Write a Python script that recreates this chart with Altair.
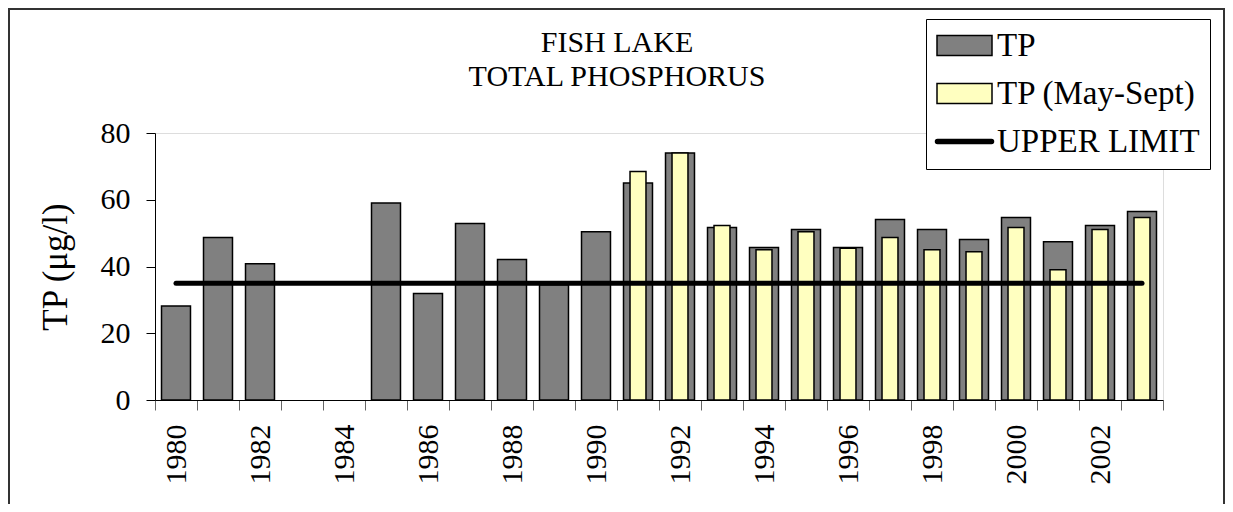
import altair as alt
import pandas as pd

years = [str(y) for y in range(1980, 2004)]
tp = [28.2, 48.7, 40.8, None, None, 59.0, 31.9, 52.9, 42.1, 34.5, 50.4, 65.0,
      74.0, 51.7, 45.7, 51.1, 45.7, 54.1, 51.1, 48.1, 54.7, 47.4, 52.3, 56.5]
may_years = [str(y) for y in range(1991, 2004)]
tp_may = [68.5, 74.0, 52.3, 45.0, 50.4, 45.5, 48.7, 45.0, 44.4, 51.7, 39.0, 51.1, 54.7]
limit_years = ["1980", "2003"]
limit_vals = [35, 35]

series = ["TP", "TP (May-Sept)", "UPPER LIMIT"]
colors = ["#808080", "#FFFFC0", "#000000"]
RECT = "M-2.75,-1H2.75V1H-2.75Z"
LINE = "M-2.7,-0.2H2.7A0.2,0.2 0 0 1 2.7,0.2H-2.7A0.2,0.2 0 0 1 -2.7,-0.2Z"
shapes = [RECT, RECT, LINE]

FONT = "Liberation Serif"

df_tp = pd.DataFrame({"year": years, "value": tp}).dropna()
df_may = pd.DataFrame({"year": may_years, "value": tp_may})
df_lim = pd.DataFrame({"year": limit_years, "value": limit_vals})
# legend carrier rows (outside the y domain, clipped away)
df_leg = pd.DataFrame({"year": ["1980"] * 3, "value": [-100] * 3, "series": series})

xscale = alt.Scale(domain=years, paddingInner=0, paddingOuter=0)
yscale = alt.Scale(domain=[0, 80])

xax = alt.Axis(
    title=None, labelAngle=270, labelFontSize=30, labelFont=FONT, labelColor="black",
    labelExpr="toNumber(datum.value) % 2 == 0 ? datum.value : ''",
    tickBand="extent", tickSize=10, tickColor="#666", domainColor="black",
    labelPadding=14, labelAlign="right", labelBaseline="middle",
)
yax = alt.Axis(
    title="TP (μg/l)", titleFont=FONT, titleFontSize=35, titleFontWeight="normal",
    titleColor="black", titlePadding=27, values=[0, 20, 40, 60, 80],
    labelFontSize=30, labelFont=FONT, labelColor="black", labelPadding=16,
    tickSize=9, tickColor="black", domainColor="black", grid=False,
)

legend = alt.Legend(
    title=None, orient="none", legendX=771, legendY=-114,
    labelFont=FONT, labelFontSize=33, labelColor="black", labelLimit=400,
    symbolSize=400, rowPadding=14, padding=10, labelOffset=16, symbolOffset=12,
    strokeColor="black", fillColor="white",
    symbolStrokeWidth=1.5, symbolOpacity=1,
)

frame = alt.Chart(pd.DataFrame({"a": [0]})).mark_rect(
    fillOpacity=0, stroke="#333", strokeWidth=2
).encode(
    x=alt.value(-146), x2=alt.value(1069), y=alt.value(-124), y2=alt.value(420)
)

bars_tp = alt.Chart(df_tp).mark_bar(
    color="#808080", stroke="black", strokeWidth=1.5, width=alt.RelativeBandSize(0.69)
).encode(
    x=alt.X("year:N", scale=xscale, axis=xax, sort=years),
    y=alt.Y("value:Q", scale=yscale, axis=yax),
)

bars_may = alt.Chart(df_may).mark_bar(
    color="#FFFFC0", stroke="black", strokeWidth=1.5, width=alt.RelativeBandSize(0.38)
).encode(
    x=alt.X("year:N", scale=xscale, sort=years),
    y=alt.Y("value:Q", scale=yscale),
)

line = alt.Chart(df_lim).mark_line(color="black", strokeWidth=5, strokeCap="round").encode(
    x=alt.X("year:N", scale=xscale, sort=years),
    y=alt.Y("value:Q", scale=yscale),
)

leg = alt.Chart(df_leg).mark_point(clip=True).encode(
    x=alt.X("year:N", scale=xscale, sort=years),
    y=alt.Y("value:Q", scale=yscale),
    fill=alt.Fill("series:N", scale=alt.Scale(domain=series, range=colors), legend=legend),
    shape=alt.Shape("series:N", scale=alt.Scale(domain=series, range=shapes), legend=legend),
    stroke=alt.value("black"),
    strokeWidth=alt.value(1.5),
    opacity=alt.value(1),
)

chart = alt.layer(frame, bars_tp, bars_may, line, leg).properties(
    width=1008, height=267,
    autosize=alt.AutoSizeParams(type="none"),
    padding={"left": 147, "top": 125, "right": 62, "bottom": 104},
    title=alt.TitleParams(
        text=["FISH LAKE", "TOTAL PHOSPHORUS"], font=FONT, fontSize=30,
        fontWeight="normal", color="black", anchor="middle", frame="group",
        dx=-42, dy=114, lineHeight=34, offset=0, baseline="bottom",
    ),
).configure_view(strokeWidth=0).configure(background="white")

chart.save("out.html", embed_options={"renderer": "svg", "actions": False})
